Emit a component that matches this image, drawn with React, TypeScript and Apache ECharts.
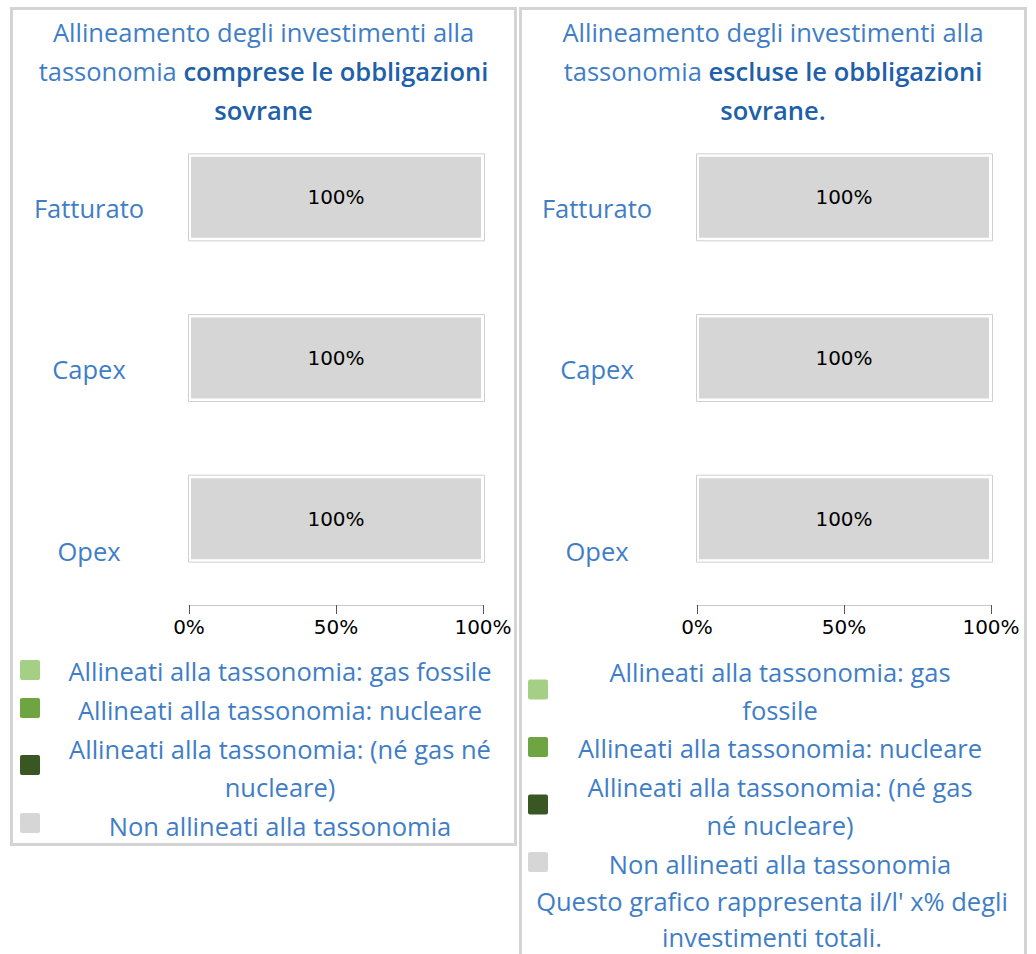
import React, { useEffect, useRef } from 'react';
import * as echarts from 'echarts';

// ---------- data ----------
const categories = ['Fatturato', 'Capex', 'Opex'];
const seriesNames = [
  'Allineati alla tassonomia: gas fossile',
  'Allineati alla tassonomia: nucleare',
  'Allineati alla tassonomia: (né gas né nucleare)',
  'Non allineati alla tassonomia',
];
// panel 1: comprese le obbligazioni sovrane
const gasIncl = [0, 0, 0];
const nuclearIncl = [0, 0, 0];
const neitherIncl = [0, 0, 0];
const notAlignedIncl = [100, 100, 100];
// panel 2: escluse le obbligazioni sovrane
const gasExcl = [0, 0, 0];
const nuclearExcl = [0, 0, 0];
const neitherExcl = [0, 0, 0];
const notAlignedExcl = [100, 100, 100];
const axisMin = 0;
const axisMax = 100;
const axisInterval = 50;

// ---------- styles ----------
const seriesColors = ['#a6cf86', '#6fa443', '#385723', '#d6d6d6'];
const FONT = "'Open Sans', sans-serif";
const NUMFONT = "'DejaVu Sans', sans-serif";
const BLUE = '#3f7ec6';
const DARKBLUE = '#2060a9';
const BORDER = '#d4d4d4';
const FS = 25.5;
const LH = 38.5;

function buildOption() {
  const panels = [
    {
      dx: 0,
      values: [gasIncl, nuclearIncl, neitherIncl, notAlignedIncl],
      titleBold: 'comprese le obbligazioni',
      titleEnd: 'sovrane',
    },
    {
      dx: 508,
      values: [gasExcl, nuclearExcl, neitherExcl, notAlignedExcl],
      titleBold: 'escluse le obbligazioni',
      titleEnd: 'sovrane.',
    },
  ];

  const grid: any[] = [];
  const xAxis: any[] = [];
  const yAxis: any[] = [];
  const series: any[] = [];
  const graphic: any[] = [];

  const labelRich: any = {};
  const shifts = [21, 22, 64];
  shifts.forEach((s, i) => {
    labelRich['c' + i] = {
      fontFamily: FONT,
      fontSize: FS,
      color: BLUE,
      padding: [s, 0, 0, 0],
    };
  });

  panels.forEach((p, pi) => {
    const fi = pi * 2;
    const gi = pi * 2 + 1;
    grid.push({ left: 189 + p.dx, top: 117, width: 294, height: 482 });
    grid.push({ left: 188 + p.dx, top: 117, width: 297, height: 482 });

    xAxis.push({
      type: 'value',
      gridIndex: fi,
      min: axisMin,
      max: axisMax,
      interval: axisInterval,
      offset: 6,
      splitLine: { show: false },
      axisLine: { show: true, lineStyle: { color: '#c8c8c8', width: 1 } },
      axisTick: { show: true, length: 9, lineStyle: { color: '#555', width: 1 } },
      axisLabel: {
        formatter: '{value}%',
        color: '#000',
        fontFamily: NUMFONT,
        fontSize: 20,
        margin: 12,
      },
    });
    xAxis.push({ type: 'value', gridIndex: gi, min: axisMin, max: axisMax, show: false });

    yAxis.push({
      type: 'category',
      gridIndex: fi,
      data: categories,
      inverse: true,
      axisLine: { show: false },
      axisTick: { show: false },
      axisLabel: {
        align: 'center',
        margin: 100,
        formatter: (v: string) => `{c${categories.indexOf(v)}|${v}}`,
        rich: labelRich,
      },
    });
    yAxis.push({ type: 'category', gridIndex: gi, data: categories, inverse: true, show: false });

    p.values.forEach((vals, si) => {
      series.push({
        type: 'bar',
        name: seriesNames[si],
        xAxisIndex: fi,
        yAxisIndex: fi,
        stack: 'panel' + pi,
        data: vals,
        barWidth: 85,
        itemStyle: { color: seriesColors[si], borderColor: '#ffffff', borderWidth: 2 },
        label: {
          show: true,
          position: 'inside',
          formatter: (prm: any) => (prm.value > 0 ? `${prm.value}%` : ''),
          color: '#000',
          fontFamily: NUMFONT,
          fontSize: 20,
        },
      });
    });

    const totals = categories.map((_, ci) => p.values.reduce((a, arr) => a + arr[ci], 0));
    series.push({
      type: 'bar',
      name: 'frame' + pi,
      xAxisIndex: gi,
      yAxisIndex: gi,
      data: totals,
      barWidth: 88,
      z: 3,
      silent: true,
      itemStyle: { color: 'rgba(0,0,0,0)', borderColor: '#cfcfcf', borderWidth: 1 },
    });

    // title
    const cx = 263.5 + p.dx + (pi === 1 ? 1.5 : 0);
    graphic.push({
      type: 'text',
      x: cx,
      y: 32,
      style: {
        text: 'Allineamento degli investimenti alla',
        fontFamily: FONT,
        fontSize: FS,
        fill: BLUE,
        align: 'center',
        verticalAlign: 'middle',
      },
    });
    graphic.push({
      type: 'text',
      x: cx,
      y: 71,
      style: {
        text: `{n|tassonomia }{b|${p.titleBold}}`,
        align: 'center',
        verticalAlign: 'middle',
        rich: {
          n: { fontFamily: FONT, fontSize: FS, fill: BLUE },
          b: { fontFamily: FONT, fontSize: FS, fontWeight: 600, fill: DARKBLUE },
        },
      },
    });
    graphic.push({
      type: 'text',
      x: cx,
      y: 109.5,
      style: {
        text: p.titleEnd,
        fontFamily: FONT,
        fontSize: FS,
        fontWeight: 600,
        fill: DARKBLUE,
        align: 'center',
        verticalAlign: 'middle',
      },
    });
  });

  // panel borders
  graphic.push({
    type: 'rect',
    shape: { x: 11.5, y: 8.5, width: 504, height: 836 },
    style: { fill: 'none', stroke: BORDER, lineWidth: 3 },
    z: 10,
  });
  graphic.push({
    type: 'rect',
    shape: { x: 520.5, y: 8.5, width: 505, height: 1000 },
    style: { fill: 'none', stroke: BORDER, lineWidth: 3 },
    z: 10,
  });

  // legends
  const legendText = (x: number, yTop: number, text: string) => ({
    type: 'text',
    x,
    y: yTop,
    style: {
      text,
      fontFamily: FONT,
      fontSize: FS,
      lineHeight: LH,
      fill: BLUE,
      align: 'center',
      verticalAlign: 'top',
    },
  });
  const centeredText = (x: number, yMid: number, text: string) => ({
    type: 'text',
    x,
    y: yMid,
    style: {
      text,
      fontFamily: FONT,
      fontSize: FS,
      lineHeight: 26,
      fill: BLUE,
      align: 'center',
      verticalAlign: 'middle',
    },
  });
  const square = (x: number, y: number, color: string) => ({
    type: 'rect',
    shape: { x, y, width: 20, height: 20, r: 2 },
    style: { fill: color },
  });

  const leftTexts = [
    seriesNames[0],
    seriesNames[1],
    'Allineati alla tassonomia: (né gas né\nnucleare)',
    seriesNames[3],
  ];
  const leftTops = [651.25, 690.25, 729.25, 806.25];
  const leftSq = [660, 698, 755, 813];
  leftTexts.forEach((t, i) => {
    graphic.push(legendText(280, leftTops[i], t));
    graphic.push(square(20, leftSq[i], seriesColors[i]));
  });

  const rightTexts = [
    'Allineati alla tassonomia: gas\nfossile',
    seriesNames[1],
    'Allineati alla tassonomia: (né gas\nné nucleare)',
    seriesNames[3],
  ];
  const rightTops = [652.25, 728.25, 767.25, 844.25];
  const rightSq = [679.5, 737, 794.5, 852];
  rightTexts.forEach((t, i) => {
    graphic.push(legendText(780, rightTops[i], t));
    graphic.push(square(528, rightSq[i], seriesColors[i]));
  });
  graphic.push(centeredText(772, 900.5, "Questo grafico rappresenta il/l' x% degli"));
  graphic.push(centeredText(772, 936.5, 'investimenti totali.'));

  return {
    animation: false,
    backgroundColor: '#ffffff',
    grid,
    xAxis,
    yAxis,
    series,
    graphic,
  };
}

export default function App() {
  const ref = useRef<HTMLDivElement>(null);
  useEffect(() => {
    if (!ref.current) return;
    const chart = echarts.init(ref.current, null, { renderer: 'svg' });
    chart.setOption(buildOption() as any);
    return () => chart.dispose();
  }, []);
  return (
    <div
      ref={ref}
      style={{ position: 'absolute', left: 0, top: 0, width: 1036, height: 954, background: '#fff' }}
    />
  );
}
